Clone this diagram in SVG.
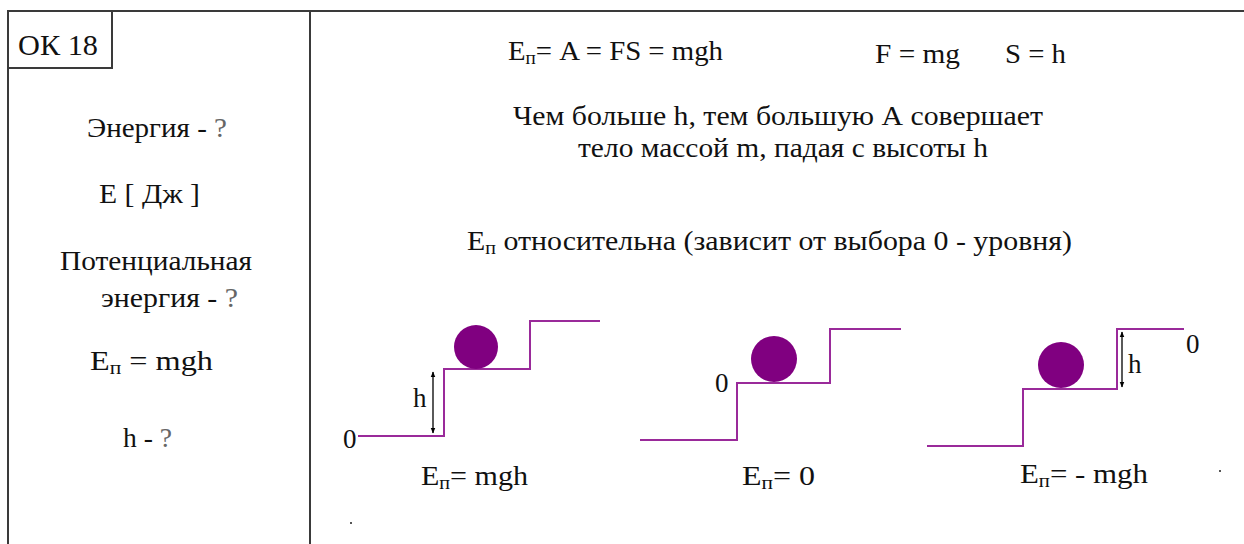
<svg xmlns="http://www.w3.org/2000/svg" width="1244" height="544" viewBox="0 0 1244 544">
<defs>
<marker id="ah" viewBox="0 0 10 10" refX="9" refY="5" markerWidth="6" markerHeight="6" orient="auto-start-reverse" markerUnits="userSpaceOnUse">
<path d="M0,1 L10,5 L0,9 Z" fill="#000"/>
</marker>
</defs>
<rect width="1244" height="544" fill="#fff"/>
<g id="frame" fill="none" stroke="#3a3a3a" stroke-width="2">
<path d="M7,11 H1244 M8,11 V544 M310,11 V544 M8,68 H112 V11"/>
</g>
<g id="title">
<text x="18" y="55" font-family="Liberation Serif" font-size="29" fill="#111" textLength="80" lengthAdjust="spacingAndGlyphs">ОК 18</text>
</g>
<g id="left-panel" font-family="Liberation Serif" font-size="27" fill="#111">
<text x="87" y="137" textLength="140" lengthAdjust="spacingAndGlyphs">Энергия - <tspan fill="#666">?</tspan></text>
<text x="99" y="203" textLength="101" lengthAdjust="spacingAndGlyphs">Е [ Дж ]</text>
<text x="60" y="270" textLength="192" lengthAdjust="spacingAndGlyphs">Потенциальная</text>
<text x="101" y="307" textLength="137" lengthAdjust="spacingAndGlyphs">энергия  - <tspan fill="#666">?</tspan></text>
<text x="90" y="370" textLength="123" lengthAdjust="spacingAndGlyphs">Е<tspan font-size="18" dy="4">п</tspan><tspan dy="-4">  = mgh</tspan></text>
<text x="123" y="447" textLength="49" lengthAdjust="spacingAndGlyphs">h - <tspan fill="#666">?</tspan></text>
</g>
<g id="top-texts" font-family="Liberation Serif" font-size="27" fill="#111">
<text x="508" y="60" textLength="215" lengthAdjust="spacingAndGlyphs">Е<tspan font-size="18" dy="4">п</tspan><tspan dy="-4">= A = FS = mgh</tspan></text>
<text x="875" y="63" textLength="85" lengthAdjust="spacingAndGlyphs">F = mg</text>
<text x="1005" y="63" textLength="61" lengthAdjust="spacingAndGlyphs">S = h</text>
<text x="513" y="125" textLength="530" lengthAdjust="spacingAndGlyphs">Чем больше h, тем большую  А совершает</text>
<text x="578" y="157" textLength="410" lengthAdjust="spacingAndGlyphs">тело массой m, падая с высоты h</text>
<text x="467" y="250" textLength="605" lengthAdjust="spacingAndGlyphs">Е<tspan font-size="18" dy="4">п</tspan><tspan dy="-4"> относительна  (зависит от выбора 0 - уровня)</tspan></text>
</g>
<g id="case1" font-family="Liberation Serif" font-size="27" fill="#111">
<path d="M358,436 H444 V369 H530 V321 H600" fill="none" stroke="#9a2a9a" stroke-width="2"/>
<circle cx="476" cy="347" r="22" fill="#800080"/>
<line x1="433" y1="372" x2="433" y2="433" stroke="#000" stroke-width="1.3" marker-start="url(#ah)" marker-end="url(#ah)"/>
<text x="413" y="407">h</text>
<text x="343" y="448">0</text>
<text x="421" y="485" textLength="107" lengthAdjust="spacingAndGlyphs">Е<tspan font-size="18" dy="4">п</tspan><tspan dy="-4">= mgh</tspan></text>
</g>
<g id="case2" font-family="Liberation Serif" font-size="27" fill="#111">
<path d="M640,440 H737 V383 H830 V329 H901" fill="none" stroke="#9a2a9a" stroke-width="2"/>
<circle cx="774" cy="359" r="23" fill="#800080"/>
<text x="715" y="392">0</text>
<text x="742" y="485" textLength="73" lengthAdjust="spacingAndGlyphs">Е<tspan font-size="18" dy="4">п</tspan><tspan dy="-4">= 0</tspan></text>
</g>
<g id="case3" font-family="Liberation Serif" font-size="27" fill="#111">
<path d="M927,446 H1023 V389 H1117 V329 H1184" fill="none" stroke="#9a2a9a" stroke-width="2"/>
<circle cx="1061" cy="365" r="23" fill="#800080"/>
<line x1="1122" y1="332" x2="1122" y2="387" stroke="#000" stroke-width="1.3" marker-start="url(#ah)" marker-end="url(#ah)"/>
<text x="1128" y="373">h</text>
<text x="1186" y="353">0</text>
<text x="1020" y="483" textLength="128" lengthAdjust="spacingAndGlyphs">Е<tspan font-size="18" dy="4">п</tspan><tspan dy="-4">= - mgh</tspan></text>
</g>
<g id="specks" fill="#555">
<rect x="350" y="522" width="2" height="2"/>
<rect x="1219" y="470" width="2" height="2"/>
</g>
</svg>
